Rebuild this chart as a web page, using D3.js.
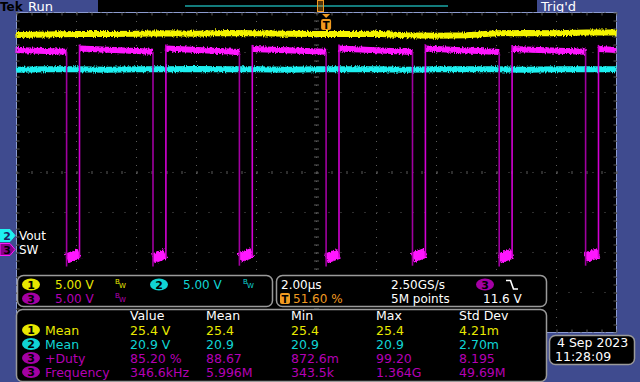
<!DOCTYPE html>
<html>
<head>
<meta charset="utf-8">
<script src="https://cdn.jsdelivr.net/npm/d3@7"></script>
<style>
  body { margin: 0; background: #3f4b8f; }
  svg { display: block; font-family: "DejaVu Sans", sans-serif; }
</style>
</head>
<body>
<div id="chart"></div>
<script>

// ---- data ----
// horizontal: 2 µs/div, 10 divs ; vertical: 8 divs, 5 V/div on every channel
const sampleTimes = [0, 1, 2, 3, 4, 5, 6, 7, 8, 9, 10, 11, 12, 13, 14, 15, 16, 17, 18, 19, 20];
const ch1Volts = [25.35, 25.4, 25.45, 25.45, 25.5, 25.55, 25.5, 25.6, 25.55, 25.5, 25.45,
                  25.45, 25.5, 25.3, 25.25, 25.3, 25.55, 25.6, 25.55, 25.65, 25.65];
const ch2Volts = [20.85, 20.9, 20.9, 20.85, 20.9, 20.9, 20.95, 20.9, 20.9, 20.85, 20.9,
                  20.9, 20.9, 20.85, 20.9, 20.9, 20.9, 20.85, 20.9, 20.9, 20.9];

// SW node (ch3) edges in µs
const swFall = [1.67, 4.55, 7.43, 10.32, 13.2, 16.09, 18.97];
const swRise = [2.1, 4.98, 7.86, 10.75, 13.63, 16.52, 19.4];
// on-level at the start / end of every high stretch (first one starts at the left edge)
const swHighStart = [24.95, 25.15, 25.15, 25.1, 25.15, 25.15, 25.1, 25.1];
const swHighEnd = [24.75, 24.75, 24.7, 24.75, 24.7, 24.7, 24.75, 24.95];
// off-level inside each low pulse
const swLowStart = [-1.1, -1.1, -1.0, -1.1, -1.0, -1.1, -1.0];
const swLowEnd = [-0.5, -0.5, -0.4, -0.5, -0.4, -0.5, -0.4];

// ground marker positions in divisions
const groundDiv = { ch1: -1.63, ch2: -1.6, ch3: -1.93 };
const triggerPercent = 51.6;

// readouts
const scaleRows = [
  { ch: '1', text: '5.00 V', col: 0, row: 0 },
  { ch: '2', text: '5.00 V', col: 1, row: 0 },
  { ch: '3', text: '5.00 V', col: 0, row: 1 }
];
const measHeaders = ['Value', 'Mean', 'Min', 'Max', 'Std Dev'];
const measChannels = ['1', '2', '3', '3'];
const measNames = ['Mean', 'Mean', '+Duty', 'Frequency'];
const measValues = [
  ['25.4 V', '25.4', '25.4', '25.4', '4.21m'],
  ['20.9 V', '20.9', '20.9', '20.9', '2.70m'],
  ['85.20 %', '88.67', '872.6m', '99.20', '8.195'],
  ['346.6kHz', '5.996M', '343.5k', '1.364G', '49.69M']
];

const traceColor = { '1': '#f4f400', '2': '#1ff0f0', '3': '#ff18ff' };
const textColor = { '1': '#e8e800', '2': '#10d4d4', '3': '#b400b4' };

const W = 640, H = 382;
const svg = d3.select('#chart').append('svg')
  .attr('width', W).attr('height', H);

// noisy look of the acquired traces
const defs = svg.append('defs');
const filt = defs.append('filter').attr('id', 'noise')
  .attr('filterUnits', 'userSpaceOnUse')
  .attr('x', 0).attr('y', 0).attr('width', W).attr('height', H);
filt.append('feTurbulence').attr('type', 'fractalNoise')
  .attr('baseFrequency', '0.9 0.3').attr('numOctaves', 2).attr('seed', 4).attr('result', 't');
filt.append('feDisplacementMap').attr('in', 'SourceGraphic').attr('in2', 't')
  .attr('scale', 4).attr('xChannelSelector', 'R').attr('yChannelSelector', 'G');

svg.append('rect').attr('width', W).attr('height', H).attr('fill', '#3f4b8f');

// scales
const x = d3.scaleLinear().domain([0, 20]).range([16.5, 616.5]);
const y = d3.scaleLinear().domain([-4, 4]).range([332.5, 12.5]);
const yV = (ch, v) => y(groundDiv[ch] + v / 5);

// ---- top status bar ----
svg.append('rect').attr('x', 98).attr('y', 0).attr('width', 439).attr('height', 12).attr('fill', '#000');
svg.append('line').attr('x1', 185).attr('x2', 448).attr('y1', 6).attr('y2', 6)
  .attr('stroke', '#1aa6a6').attr('stroke-width', 1.5);
svg.append('rect').attr('x', x(10) + 1).attr('y', 0.5).attr('width', 6).attr('height', 11)
  .attr('fill', 'rgba(240,150,30,0.35)').attr('stroke', '#f09a20');
svg.append('text').attr('x', 0).attr('y', 11).attr('font-size', 12).attr('font-weight', 'bold')
  .attr('fill', '#000').text('Tek');
svg.append('text').attr('x', 28).attr('y', 11).attr('font-size', 13).attr('fill', '#fff').text('Run');
svg.append('text').attr('x', 541).attr('y', 11).attr('font-size', 13).attr('fill', '#fff').text("Trig'd");

// ---- graticule ----
const plot = svg.append('g');
plot.append('rect').attr('x', 16.5).attr('y', 12.5).attr('width', 600).attr('height', 320)
  .attr('fill', '#000').attr('stroke', '#8c9bd0');

const grid = plot.append('g').attr('stroke', '#5a5a5a');
grid.selectAll('.vg').data(x.ticks(10)).join('line')
  .attr('x1', d => x(d)).attr('x2', d => x(d)).attr('y1', 13).attr('y2', 333)
  .attr('stroke-dasharray', '1 7');
grid.selectAll('.hg').data(y.ticks(8)).join('line')
  .attr('y1', d => y(d)).attr('y2', d => y(d)).attr('x1', 16.5).attr('x2', 617)
  .attr('stroke-dasharray', '1 11');

// minor ticks on the centre cross and along the frame, drawn by d3 axes
const minorX = x.ticks(50), minorY = y.ticks(40);
const tickAxis = (gen, tr) => {
  const g = plot.append('g').attr('transform', tr).call(gen);
  g.selectAll('text').remove();
  g.select('.domain').remove();
  g.selectAll('line').attr('stroke', '#5a5a5a');
};
tickAxis(d3.axisBottom(x).tickValues(minorX).tickSize(3).tickSizeOuter(0), `translate(0,${y(0) - 1.5})`);
tickAxis(d3.axisRight(y).tickValues(minorY).tickSize(5).tickSizeOuter(0), `translate(${x(10) - 2.5},0)`);
tickAxis(d3.axisBottom(x).tickValues(minorX).tickSize(3).tickSizeOuter(0), `translate(0,${y(4)})`);
tickAxis(d3.axisTop(x).tickValues(minorX).tickSize(3).tickSizeOuter(0), `translate(0,${y(-4)})`);
tickAxis(d3.axisRight(y).tickValues(minorY).tickSize(3).tickSizeOuter(0), `translate(${x(0)},0)`);
tickAxis(d3.axisLeft(y).tickValues(minorY).tickSize(3).tickSizeOuter(0), `translate(${x(20)},0)`);

// ---- traces ----
const traces = plot.append('g').attr('filter', 'url(#noise)');
const line1 = d3.line().x((d, i) => x(sampleTimes[i])).y(d => yV('ch1', d));
const line2 = d3.line().x((d, i) => x(sampleTimes[i])).y(d => yV('ch2', d));

traces.append('path').attr('d', line1(ch1Volts)).attr('fill', 'none')
  .attr('stroke', traceColor['1']).attr('stroke-width', 6);

// SW high stretches
const highSegs = swHighStart.map((v, i) => ({
  t0: i === 0 ? 0 : swRise[i - 1],
  t1: i < swFall.length ? swFall[i] : 20,
  v0: v, v1: swHighEnd[i]
}));
traces.selectAll('.hi').data(highSegs).join('line')
  .attr('x1', d => x(d.t0)).attr('x2', d => x(d.t1))
  .attr('y1', d => yV('ch3', d.v0)).attr('y2', d => yV('ch3', d.v1))
  .attr('stroke', traceColor['3']).attr('stroke-width', 6);

// SW low pulses
traces.selectAll('.lo').data(swFall).join('line')
  .attr('x1', d => x(d)).attr('x2', (d, i) => x(swRise[i]))
  .attr('y1', (d, i) => yV('ch3', swLowStart[i])).attr('y2', (d, i) => yV('ch3', swLowEnd[i]))
  .attr('stroke', traceColor['3']).attr('stroke-width', 10);

traces.append('path').attr('d', line2(ch2Volts)).attr('fill', 'none')
  .attr('stroke', traceColor['2']).attr('stroke-width', 6);

// SW edges (sparse, dimmer)
const edges = plot.append('g');
edges.selectAll('.fe').data(swFall).join('line')
  .attr('x1', d => x(d)).attr('x2', d => x(d))
  .attr('y1', (d, i) => yV('ch3', swHighEnd[i])).attr('y2', (d, i) => yV('ch3', swLowStart[i]) + 8)
  .attr('stroke', '#a000a0').attr('stroke-width', 1.6);
edges.selectAll('.re').data(swRise).join('line')
  .attr('x1', d => x(d)).attr('x2', d => x(d))
  .attr('y1', (d, i) => yV('ch3', swHighStart[i + 1]) - 4).attr('y2', (d, i) => yV('ch3', swLowEnd[i]) + 4)
  .attr('stroke', '#d400d4').attr('stroke-width', 1.6);

// trigger marker
const tx = x(20 * triggerPercent / 100);
svg.append('path').attr('d', `M${tx - 4},14 h8 l-4,4 Z`).attr('fill', '#f09a20');
svg.append('rect').attr('x', tx - 5).attr('y', 19).attr('width', 10).attr('height', 11).attr('rx', 2)
  .attr('fill', '#f09a20');
svg.append('text').attr('x', tx).attr('y', 28.5).attr('text-anchor', 'middle')
  .attr('font-size', 10).attr('font-weight', 'bold').attr('fill', '#000').text('T');

// ground markers
const marker = (ch, yy, label, fill, numColor) => {
  const g = svg.append('g');
  g.append('path').attr('d', `M0,${yy - 6} H10 L15,${yy} L10,${yy + 6} H0 Z`)
    .attr('fill', fill).attr('stroke', traceColor[ch]);
  g.append('text').attr('x', 7).attr('y', yy + 4.5).attr('text-anchor', 'middle')
    .attr('font-size', 11).attr('font-weight', 'bold').attr('fill', numColor).text(ch);
  g.append('text').attr('x', 19).attr('y', yy + 4.5).attr('font-size', 12).attr('fill', '#fff').text(label);
};
marker('2', 235.5, 'Vout', '#1ff0f0', '#1a2060');
marker('3', 249.5, 'SW', '#8a008a', '#000');

// ---- readout boxes ----
const box = (bx, by, bw, bh) => svg.append('rect').attr('x', bx).attr('y', by)
  .attr('width', bw).attr('height', bh).attr('rx', 6)
  .attr('fill', '#000').attr('stroke', '#9a9a9a').attr('stroke-width', 1.5);
box(17.5, 275.5, 255, 31);
box(276.5, 275.5, 270, 31);
box(16.5, 309.5, 530, 72);
box(549.5, 335.5, 85, 29);

const badge = (cx, cy, ch) => {
  svg.append('ellipse').attr('cx', cx).attr('cy', cy).attr('rx', 9).attr('ry', 6)
    .attr('fill', ch === '3' ? '#a400a4' : textColor[ch]);
  svg.append('text').attr('x', cx).attr('y', cy + 4).attr('text-anchor', 'middle')
    .attr('font-size', 11).attr('font-weight', 'bold').attr('fill', '#000').text(ch);
};
const bw = (bx, by, col) => {
  svg.append('text').attr('x', bx).attr('y', by - 3).attr('font-size', 7).attr('fill', col).text('B');
  svg.append('text').attr('x', bx + 4).attr('y', by + 1).attr('font-size', 7).attr('fill', col).text('W');
};

const wt = (tx0, ty0, s, col, fs) => svg.append('text').attr('x', tx0).attr('y', ty0)
  .attr('font-size', fs || 12.5).attr('fill', col || '#fff').text(s);

scaleRows.forEach(r => {
  const bx = 31 + r.col * 128, by = 284.5 + r.row * 14;
  badge(bx, by, r.ch);
  wt(bx + 24, by + 4.5, r.text, textColor[r.ch], 12);
  bw(bx + 84, by + 2, textColor[r.ch]);
});

// timebase box
wt(281, 289, '2.00µs', '#fff', 12);
wt(391, 289, '2.50GS/s', '#fff', 12);
badge(485, 284.5, '3');
svg.append('path').attr('d', 'M506,280.5 H510.5 L513.5,289 H518').attr('fill', 'none')
  .attr('stroke', '#fff').attr('stroke-width', 1.6);
svg.append('rect').attr('x', 280).attr('y', 293).attr('width', 10).attr('height', 11).attr('rx', 2)
  .attr('fill', '#f09a20');
svg.append('text').attr('x', 285).attr('y', 302.5).attr('text-anchor', 'middle')
  .attr('font-size', 10).attr('font-weight', 'bold').attr('fill', '#000').text('T');
wt(293, 303, '51.60 %', '#f09a20', 12);
wt(391, 303, '5M points', '#fff', 12);
wt(483, 303, '11.6 V', '#fff', 12);

// measurement table
const colX = [130, 206, 291, 376, 459];
measHeaders.forEach((h, i) => wt(colX[i], 320, h, '#fff'));
measNames.forEach((n, r) => {
  const ch = measChannels[r], by = 330 + r * 14;
  badge(31, by, ch);
  wt(45, by + 4.5, n, textColor[ch]);
  measValues[r].forEach((v, i) => wt(colX[i], by + 4.5, v, textColor[ch]));
});

// date box
wt(557, 347, '4 Sep  2023');
wt(555, 361, '11:28:09');

</script>
</body>
</html>
